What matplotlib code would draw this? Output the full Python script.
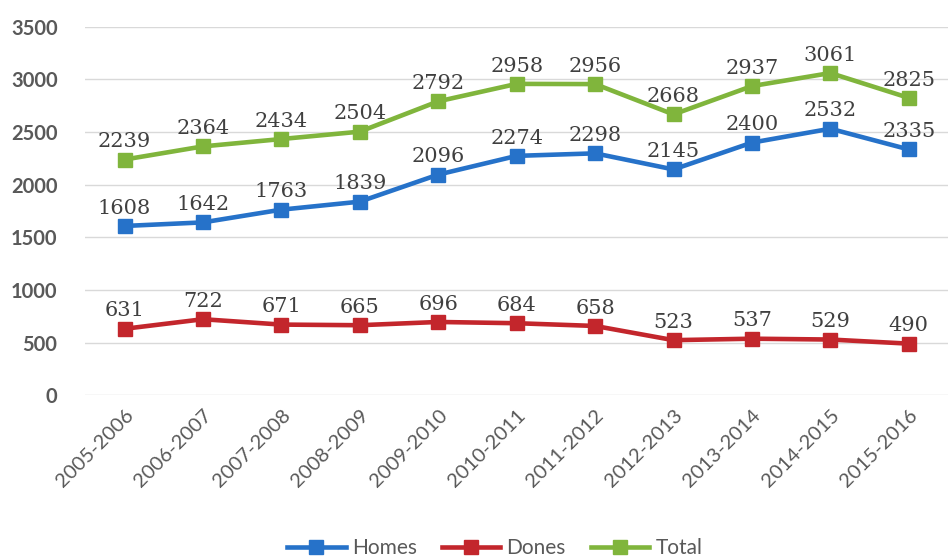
import matplotlib.pyplot as plt

plt.rcParams['font.family'] = ['Lato', 'DejaVu Sans']

years = ['2005-2006', '2006-2007', '2007-2008', '2008-2009', '2009-2010',
         '2010-2011', '2011-2012', '2012-2013', '2013-2014', '2014-2015',
         '2015-2016']
homes = [1608, 1642, 1763, 1839, 2096, 2274, 2298, 2145, 2400, 2532, 2335]
dones = [631, 722, 671, 665, 696, 684, 658, 523, 537, 529, 490]
total = [2239, 2364, 2434, 2504, 2792, 2958, 2956, 2668, 2937, 3061, 2825]

series = [('Homes', homes, '#2672C9'),
          ('Dones', dones, '#C3262C'),
          ('Total', total, '#80B53C')]

fig = plt.figure(figsize=(9.48, 5.59), dpi=100)
ax = fig.add_axes([0.09, 0.293, 0.91, 0.659])

x = list(range(len(years)))
for name, vals, col in series:
    ax.plot(x, vals, color=col, lw=3.3, marker='s', ms=10.5, label=name,
            solid_joinstyle='round')
    for xi, v in zip(x, vals):
        ax.annotate(str(v), (xi, v), xytext=(0, 6), textcoords='offset points',
                    ha='center', va='bottom', fontsize=15, color='#404040',
                    family='DejaVu Serif')

ax.set_xlim(-0.5, len(years) - 0.5)
ax.set_ylim(0, 3500)
ax.set_yticks(range(0, 3501, 500))
ax.set_xticks(x)
ax.set_xticklabels(years, rotation=45, ha='right', va='top',
                   rotation_mode='anchor')
ax.tick_params(length=0, labelsize=14.5, labelcolor='#595959')
ax.tick_params(axis='y', pad=20)
ax.tick_params(axis='x', pad=8)
for lbl in ax.get_yticklabels():
    lbl.set_fontweight('bold')
ax.grid(axis='y', color='#D9D9D9', lw=1)
ax.set_axisbelow(True)
for s in ax.spines.values():
    s.set_visible(False)

fig.legend(loc='center', bbox_to_anchor=(0.522, 0.02), ncol=3, frameon=False,
           fontsize=15, handlelength=2.8, columnspacing=1.2, handletextpad=0.3,
           labelcolor='#595959')

fig.savefig('out.png', dpi=100)
